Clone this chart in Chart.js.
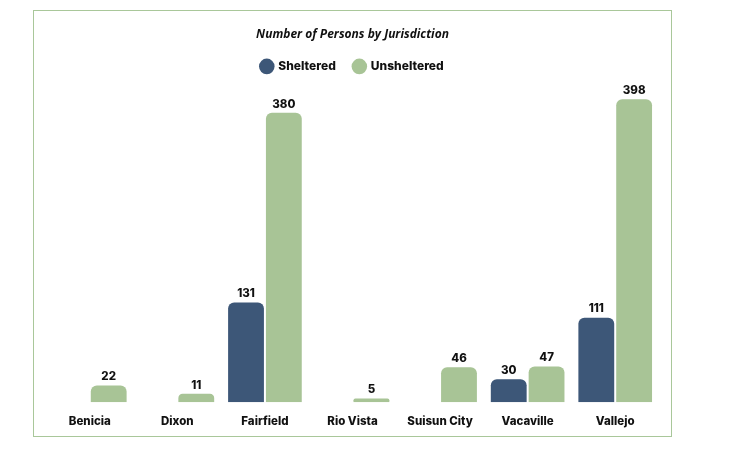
<!DOCTYPE html>
<html>
<head>
<meta charset="utf-8">
<script src="https://cdn.jsdelivr.net/npm/chart.js@4/dist/chart.umd.min.js"></script>
<style>
  body { margin: 0; background: #fff; }
  #box { position: absolute; left: 33px; top: 10px; width: 637px; height: 425px; border: 1px solid #a9c79a; }
</style>
</head>
<body>
<div id="box"><canvas id="g_juris"></canvas></div>
<script>
// Número de pessoas por jurisdição
const categories = ['Benicia', 'Dixon', 'Fairfield', 'Rio Vista', 'Suisun City', 'Vacaville', 'Vallejo'];
const sheltered = [null, null, 131, null, null, 30, 111];
const unsheltered = [22, 11, 380, 5, 46, 47, 398];

const labelFont = '800 11.5px Inter, "Open Sans", sans-serif';

// desenha os valores em cima das barras
const valueLabels = {
    id: 'valueLabels',
    afterDatasetsDraw(chart) {
        const c = chart.ctx;
        c.save();
        c.font = labelFont;
        c.fillStyle = '#111';
        c.textAlign = 'center';
        c.textBaseline = 'bottom';
        chart.data.datasets.forEach((ds, i) => {
            chart.getDatasetMeta(i).data.forEach((bar, j) => {
                if (ds.data[j] == null) return;
                c.fillText(ds.data[j], bar.x, bar.y - 3);
            });
        });
        c.restore();
    }
};

const ctx = document.getElementById('g_juris').getContext('2d');
const g_juris = new Chart(ctx, {
    type: 'bar',
    data: {
        labels: categories,
        datasets: [{
            label: 'Sheltered',
            data: sheltered,
            backgroundColor: '#3d5778',
            borderRadius: 6,
            borderSkipped: 'bottom'
        }, {
            label: 'Unsheltered',
            data: unsheltered,
            backgroundColor: '#a8c496',
            borderRadius: 6,
            borderSkipped: 'bottom'
        }]
    },
    options: {
        responsive: true,
        maintainAspectRatio: false,
        animation: false,
        categoryPercentage: 0.864,
        barPercentage: 0.947,
        layout: { padding: { left: 12, right: 12, bottom: 4 } },
        plugins: {
            title: {
                display: true,
                text: 'Number of Persons by Jurisdiction',
                color: '#111',
                font: { family: '"Open Sans", sans-serif', size: 12, weight: 'bold', style: 'italic' },
                padding: { top: 16, bottom: 1 }
            },
            legend: {
                labels: {
                    usePointStyle: true,
                    pointStyle: 'circle',
                    boxWidth: 11,
                    boxHeight: 11,
                    padding: 18,
                    color: '#111',
                    font: { family: 'Inter, "Open Sans", sans-serif', size: 12, weight: '800' }
                }
            },
            tooltip: { enabled: false }
        },
        scales: {
            x: {
                grid: { display: false },
                border: { display: false },
                ticks: {
                    color: '#111',
                    padding: 4,
                    font: { family: 'Inter, "Open Sans", sans-serif', size: 11.5, weight: '800' }
                }
            },
            y: {
                display: false,
                min: 0,
                max: 420
            }
        }
    },
    plugins: [valueLabels]
});
</script>
</body>
</html>
